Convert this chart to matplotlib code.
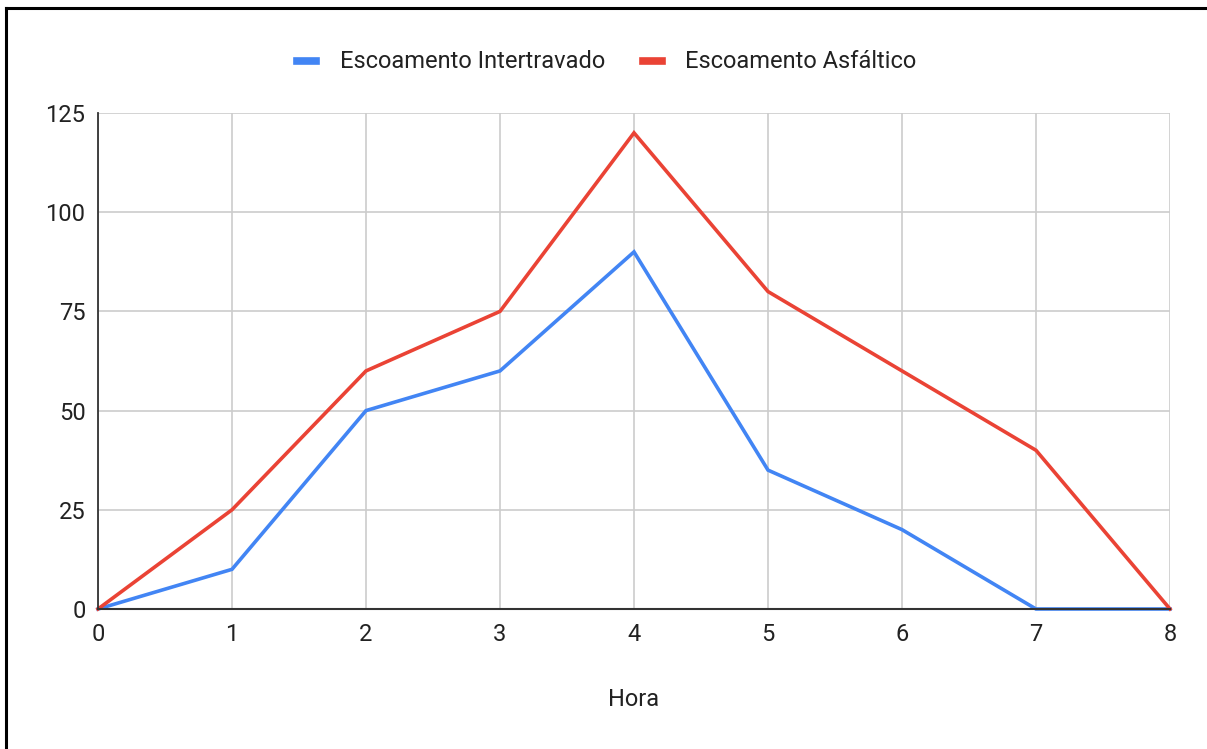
import numpy as np
import matplotlib.pyplot as plt
from matplotlib.lines import Line2D

plt.rcParams['font.family'] = ['Roboto', 'DejaVu Sans']

hora = [0, 1, 2, 3, 4, 5, 6, 7, 8]
intertravado = [0, 10, 50, 60, 90, 35, 20, 0, 0]
asfaltico = [0, 25, 60, 75, 120, 80, 60, 40, 0]

W, H = 1207, 749
fig = plt.figure(figsize=(W / 100, H / 100), dpi=100)
ax = fig.add_axes([98 / W, (H - 609) / H, (1170 - 98) / W, (609 - 113) / H])

ax.plot(hora, intertravado, color='#4285F4', lw=2.6, label='Escoamento Intertravado', clip_on=False, solid_joinstyle='miter')
ax.plot(hora, asfaltico, color='#EA4335', lw=2.6, label='Escoamento Asfáltico', clip_on=False, solid_joinstyle='miter')

ax.set_xlim(0, 8)
ax.set_ylim(0, 125)
ax.set_xticks(hora)
ax.set_yticks([0, 25, 50, 75, 100, 125])
ax.grid(True, color='#cccccc', lw=1.2)
ax.set_axisbelow(True)
for s in ['top', 'right']:
    ax.spines[s].set_visible(False)
ax.spines['left'].set_color('#333333')
ax.spines['bottom'].set_color('#333333')
ax.spines['left'].set_linewidth(1.3)
ax.spines['bottom'].set_linewidth(1.5)
ax.tick_params(length=0, labelsize=17, colors='#222222')
ax.tick_params(axis='x', pad=10)
ax.tick_params(axis='y', pad=9)
ax.set_xlabel('Hora', fontsize=17, color='#222222', labelpad=30)

fig.legend(loc='center', bbox_to_anchor=(607 / W, (H - 62) / H), ncol=2, frameon=False,
           fontsize=17, handlelength=0.8, handleheight=0.6, columnspacing=1.6,
           handletextpad=1.0, labelcolor='#222222')
leg = fig.legends[0]
for h in leg.legend_handles:
    h.set_linewidth(5.5)

# frame lines of the screenshot
fig.add_artist(Line2D([6 / W, 1], [1 - 8 / H, 1 - 8 / H], color='black', lw=2.2, transform=fig.transFigure))
fig.add_artist(Line2D([6 / W, 6 / W], [0, 1 - 8 / H], color='black', lw=2.2, transform=fig.transFigure))

fig.savefig('out.png', dpi=100)
